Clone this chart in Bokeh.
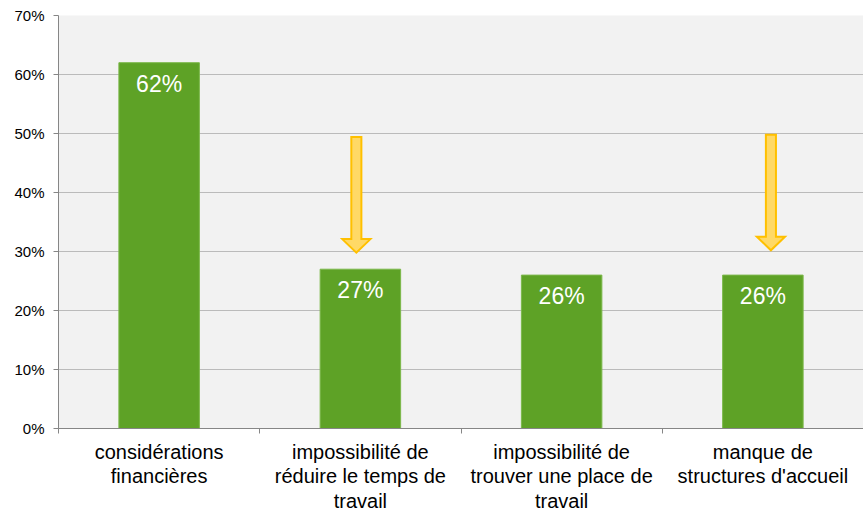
from bokeh.plotting import figure
from bokeh.models import Range1d, FixedTicker, PrintfTickFormatter, ColumnDataSource
from bokeh.core.properties import value
from bokeh.embed import file_html
from bokeh.resources import INLINE

# ---- data ----
categories = ["considérations\nfinancières",
              "impossibilité de\nréduire le temps de\ntravail",
              "impossibilité de\ntrouver une place de\ntravail",
              "manque de\nstructures d'accueil"]
values = [62, 27, 26, 26]
y_ticks = [0, 10, 20, 30, 40, 50, 60, 70]
# arrows: category index, position shift, start value, end value
arrow_cat = [1, 3]
arrow_shift = [-0.02, 0.04]
arrow_start = [49.4, 49.8]
arrow_end = [29.8, 30.2]

# ---- style ----
BAR = "#5EA226"
BG = "#F2F2F2"
GRID = "#BBBBBB"
AXIS = "#868686"
FONT = "Liberation Sans"

p = figure(width=863, height=515, output_backend="svg", toolbar_location=None,
           x_range=Range1d(0, len(categories)), y_range=Range1d(0, 70))
p.min_border_left = 58
p.min_border_right = 0
p.min_border_top = 15
p.min_border_bottom = 87
p.background_fill_color = BG
p.border_fill_color = "white"
p.outline_line_color = None

xs = [i + 0.5 for i in range(len(categories))]
src = ColumnDataSource(dict(x=xs, top=values, lab=[f"{v}%" for v in values]))
p.vbar(x="x", top="top", width=0.4, bottom=0, source=src,
       fill_color=BAR, line_color="#7CB84A", line_width=1)
p.text(x="x", y="top", text="lab", source=src, text_color="white",
       text_font=value(FONT), text_font_size="23px", text_align="center",
       text_baseline="middle", y_offset=21)

# arrows drawn as polygons
shaft_hw = 0.025
head_hw = 0.07
head_len = 2.3
axs, ays = [], []
for c, s, y0, y1 in zip(arrow_cat, arrow_shift, arrow_start, arrow_end):
    cx = c + 0.5 + s
    hb = y1 + head_len
    axs.append([cx - shaft_hw, cx + shaft_hw, cx + shaft_hw, cx + head_hw, cx,
                cx - head_hw, cx - shaft_hw])
    ays.append([y0, y0, hb, hb, y1, hb, hb])
p.patches(axs, ays, fill_color="#FFD966", line_color="#FFC000", line_width=2,
          line_join="miter")

# axes
p.xgrid.visible = False
p.ygrid.grid_line_color = GRID
p.ygrid.grid_line_width = 1

p.yaxis.ticker = FixedTicker(ticks=y_ticks)
p.yaxis.formatter = PrintfTickFormatter(format="%d%%")
p.yaxis.axis_line_color = AXIS
p.yaxis.major_tick_line_color = AXIS
p.yaxis.major_tick_out = 5
p.yaxis.major_tick_in = 0
p.yaxis.minor_tick_line_color = None
p.yaxis.major_label_text_font = FONT
p.yaxis.major_label_text_font_size = "15px"
p.yaxis.major_label_text_color = "black"
p.yaxis.major_label_standoff = 9

p.xaxis.ticker = FixedTicker(ticks=xs, minor_ticks=list(range(len(categories) + 1)))
p.xaxis.major_label_overrides = {x: c for x, c in zip(xs, categories)}
p.xaxis.axis_line_color = AXIS
p.xaxis.major_tick_line_color = None
p.xaxis.minor_tick_line_color = AXIS
p.xaxis.minor_tick_out = 5
p.xaxis.minor_tick_in = 0
p.xaxis.major_label_text_font = FONT
p.xaxis.major_label_text_font_size = "20px"
p.xaxis.major_label_text_line_height = 1.13
p.xaxis.major_label_text_color = "black"
p.xaxis.major_label_standoff = 6

open("out.html", "w").write(file_html(p, INLINE))
